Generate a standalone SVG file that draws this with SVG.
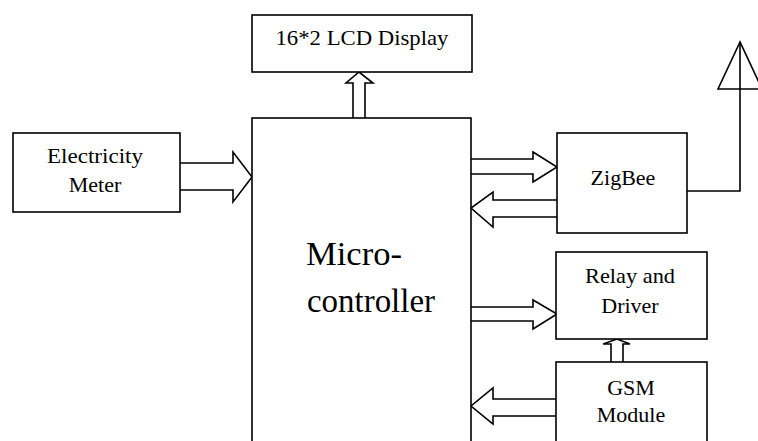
<svg xmlns="http://www.w3.org/2000/svg" width="758" height="441" viewBox="0 0 758 441">
<style>
.box{fill:#fff;stroke:#000;stroke-width:1.6}
.c{fill:none;stroke:#000;stroke-width:1.6;stroke-linejoin:miter}
.t{font-size:22px;text-anchor:middle}
.big{font-size:34px}
</style>
<rect width="758" height="441" fill="#fff"/>
<g id="connectors">
<polyline class="c" points="180,163 233,163 233,152 252,177 233,202 233,190 180,190"/>
<polyline class="c" points="353,118 353,83 346,83 359,72 373,83 365,83 365,118"/>
<polyline class="c" points="471,159 533,159 533,152 557,167 533,182 533,174 471,174"/>
<polyline class="c" points="557,200 493,200 493,192 471,208 493,227 493,217 557,217"/>
<polyline class="c" points="471,307 533,307 533,300 557,314 533,329 533,321 471,321"/>
<polyline class="c" points="611,362 611,344 603,344 617,339 630,344 623,344 623,362"/>
<polyline class="c" points="556,399 493,399 493,388 471,406 493,424 493,416 556,416"/>
<polyline class="c" points="687,191 740,191 740,42"/>
<polygon class="c" points="740,42 718,89 762,89"/>
</g>
<g font-family="Liberation Serif, Times New Roman, serif" fill="#000">
<g id="lcd">
<rect class="box" x="252" y="15" width="220" height="57"/>
<text class="t" x="362" y="45" textLength="173" lengthAdjust="spacingAndGlyphs">16*2 LCD Display</text>
</g>
<g id="meter">
<rect class="box" x="13" y="133" width="167" height="79"/>
<text class="t" x="95" y="163" textLength="96" lengthAdjust="spacingAndGlyphs">Electricity</text>
<text class="t" x="95" y="192">Meter</text>
</g>
<g id="micro">
<rect class="box" x="252" y="118" width="219" height="340"/>
<text class="big" x="306" y="265" textLength="96" lengthAdjust="spacingAndGlyphs">Micro-</text>
<text class="big" x="307" y="312" textLength="128" lengthAdjust="spacingAndGlyphs">controller</text>
</g>
<g id="zigbee">
<rect class="box" x="557" y="133" width="130" height="100"/>
<text class="t" x="623" y="185">ZigBee</text>
</g>
<g id="relay">
<rect class="box" x="556" y="252" width="151" height="87"/>
<text class="t" x="630" y="283" textLength="90" lengthAdjust="spacingAndGlyphs">Relay and</text>
<text class="t" x="630" y="313">Driver</text>
</g>
<g id="gsm">
<rect class="box" x="556" y="362" width="151" height="100"/>
<text class="t" x="631" y="395">GSM</text>
<text class="t" x="631" y="422">Module</text>
</g>
</g>
</svg>
